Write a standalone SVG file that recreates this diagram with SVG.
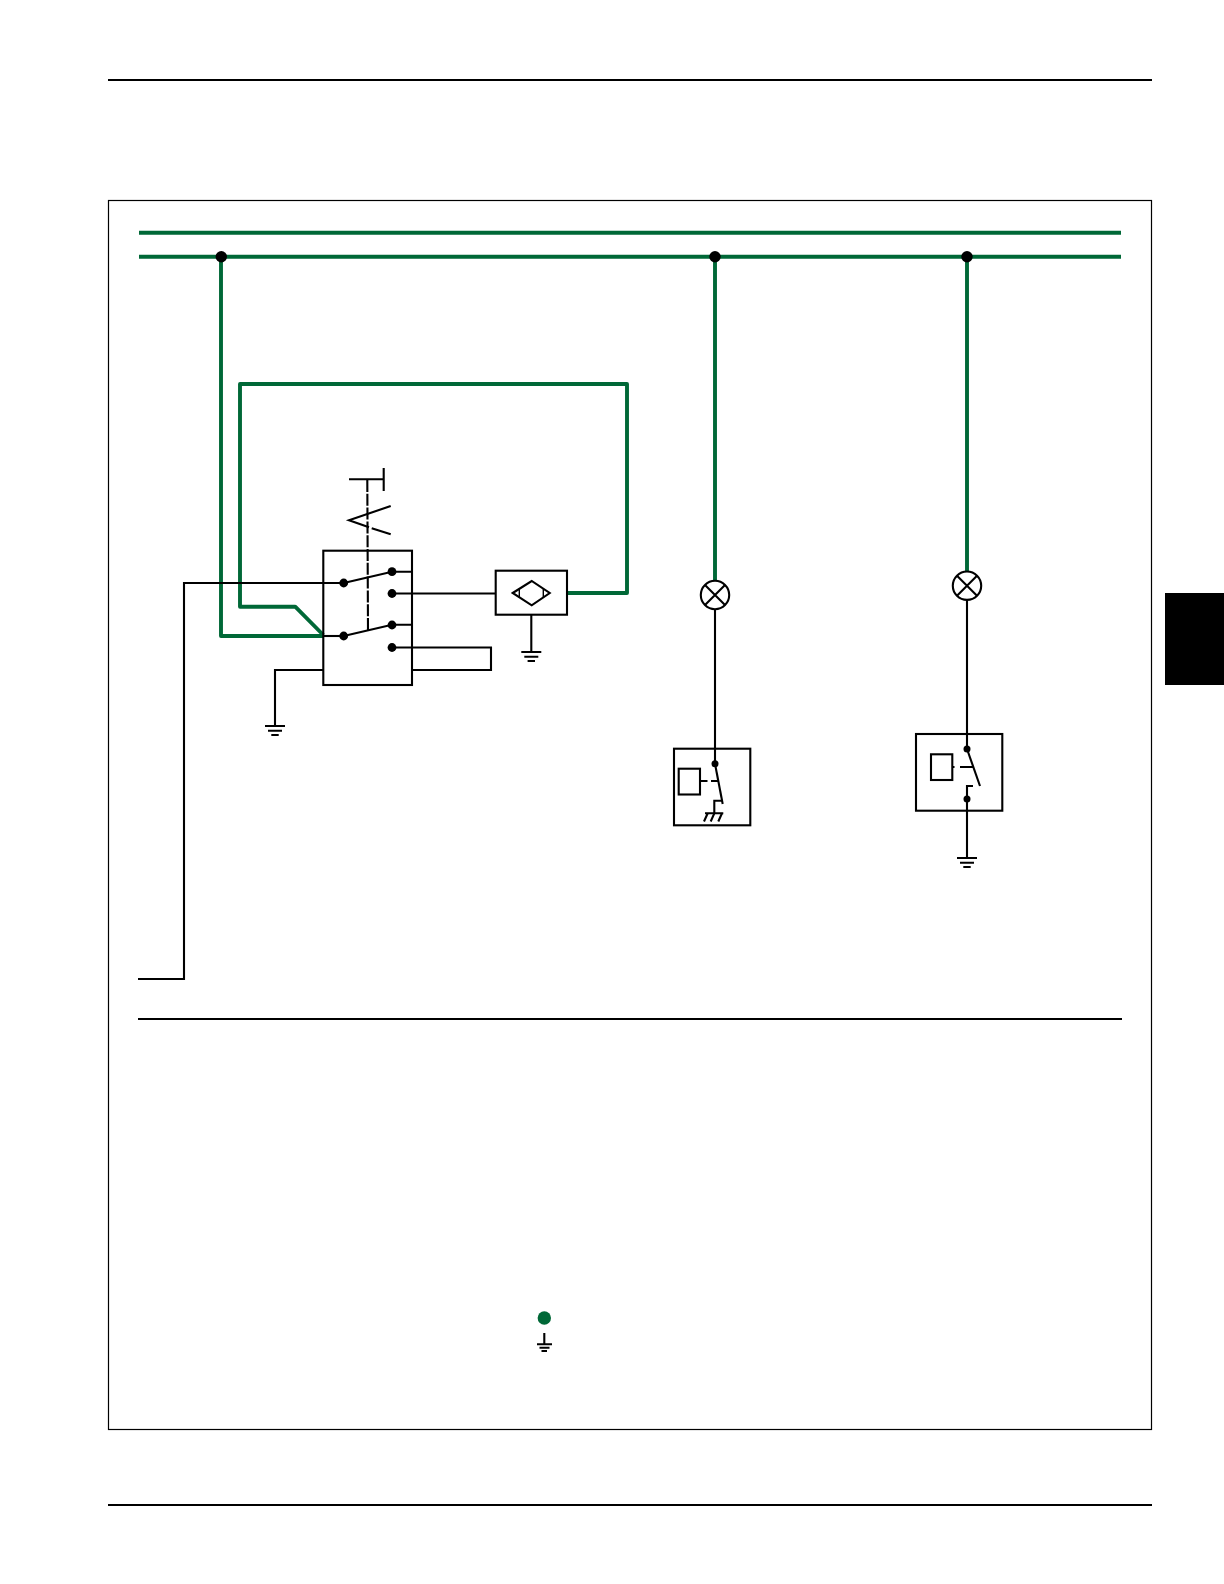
<svg xmlns="http://www.w3.org/2000/svg" width="1224" height="1584" viewBox="0 0 1224 1584">
<defs>
<style>
.w{fill:none;stroke:#000;stroke-width:2.1}
.g{fill:none;stroke:#006837;stroke-width:3.9;stroke-linejoin:round}
.t{fill:none;stroke:#000;stroke-width:1.4}
.d{fill:#000}
</style>
<g id="gnd"><path class="w" d="M-10 0H10M-7 4.700H7M-3.700 9H3.700"/></g>
</defs>
<rect width="1224" height="1584" fill="#fff"/>
<g id="page">
<path d="M108 80H1152M108 1505H1152" fill="none" stroke="#000" stroke-width="2"/>
<rect x="108.500" y="200.500" width="1043" height="1229" fill="none" stroke="#000" stroke-width="1.200"/>
<rect x="1165" y="593" width="59" height="92" fill="#000"/>
<path d="M138 1019H1122" fill="none" stroke="#000" stroke-width="2"/>
</g>
<g id="connectors">
<path class="g" d="M139 232.700H1121M139 256.700H1121"/>
<path class="g" d="M221 256.700V636H323.300"/>
<path class="g" d="M323.300 635L295.200 606.700H240V384H627V593H567"/>
<path class="g" d="M715 256.700V581M967 256.700V572"/>
<path class="w" d="M138 979H184V583H343.700"/>
<path class="w" d="M323.300 636H343.700"/>
<path class="w" d="M392 593.500H495.700"/>
<path class="w" d="M392 647.500H491V670H412"/>
<path class="w" d="M323.300 670H275V726"/>
<path class="w" d="M531.300 614.700V652"/>
<path class="w" d="M715 610V763.700"/>
<path class="w" d="M967 600V749M967 799V858"/>
</g>
<g id="junctions">
<circle class="d" cx="221.300" cy="256.700" r="5.700"/>
<circle class="d" cx="715" cy="256.700" r="5.700"/>
<circle class="d" cx="967" cy="256.700" r="5.700"/>
</g>
<g id="switch">
<rect class="w" x="323.300" y="550.700" width="88.700" height="134.300"/>
<path class="w" d="M343.700 583L392 571.700H412M343.700 636L392 624.700H412"/>
<circle class="d" cx="343.700" cy="583" r="4.400"/>
<circle class="d" cx="392" cy="571.700" r="4.400"/>
<circle class="d" cx="392" cy="593.500" r="4.400"/>
<circle class="d" cx="392" cy="625" r="4.400"/>
<circle class="d" cx="392" cy="647.500" r="4.400"/>
<circle class="d" cx="343.700" cy="636" r="4.400"/>
<path class="w" d="M367.300 480L368 630" stroke-dasharray="12 1.800"/>
<path class="w" d="M349 479.300H383.700M383.700 468V491"/>
<path class="w" d="M390.700 506L349 520.300L369 527.300M371.700 528.300L390.700 534.300"/>
</g>
<g id="ground-switch"><use href="#gnd" x="275" y="726"/></g>
<g id="sensor">
<rect class="w" x="495.700" y="570.700" width="71.300" height="44"/>
<path class="w" d="M512.700 593L531.700 581L549.700 593L531.700 605.300Z"/>
<path class="t" d="M519.300 588.500V597.500M543.300 588.500V597.500"/>
</g>
<g id="ground-sensor"><use href="#gnd" x="531.300" y="652"/></g>
<g id="lamp-1">
<circle class="w" cx="715" cy="595" r="14.200"/>
<path class="w" d="M705 585L725 605M725 585L705 605"/>
</g>
<g id="lamp-2">
<circle class="w" cx="967" cy="585.700" r="14.200"/>
<path class="w" d="M957 575.700L977 595.700M977 575.700L957 595.700"/>
</g>
<g id="relay-1">
<rect class="w" x="674" y="748.700" width="76.300" height="76.600"/>
<rect class="w" x="678.700" y="768.700" width="21.300" height="25.800"/>
<path class="w" d="M700 781H707.500M711 781H718"/>
<path class="w" d="M715 763.700L722.700 804"/>
<path class="w" d="M722.700 800.700H714.300V813.300M705 813.300H723.300"/>
<path class="w" d="M707.700 813.300L704 821.500M714.300 813.300L710.700 821.500M722 813.300L718.300 821.500"/>
<circle class="d" cx="715" cy="763.700" r="3.500"/>
</g>
<g id="relay-2">
<rect class="w" x="916" y="734" width="86.300" height="76.700"/>
<rect class="w" x="931" y="754.300" width="21.300" height="25.700"/>
<path class="w" d="M952 767H954.500M960 767H973"/>
<path class="w" d="M967 749L980 786"/>
<path class="w" d="M967 799V786H973"/>
<circle class="d" cx="967" cy="749" r="3.500"/>
<circle class="d" cx="967" cy="799" r="3.500"/>
</g>
<g id="ground-relay-2"><use href="#gnd" x="967" y="858"/></g>
<g id="legend">
<circle cx="544.300" cy="1318" r="6.700" fill="#006837"/>
<path class="w" d="M544.300 1333V1344.300M537 1344.300H552M539.500 1347.800H549.500M541.500 1351H547"/>
</g>
</svg>
